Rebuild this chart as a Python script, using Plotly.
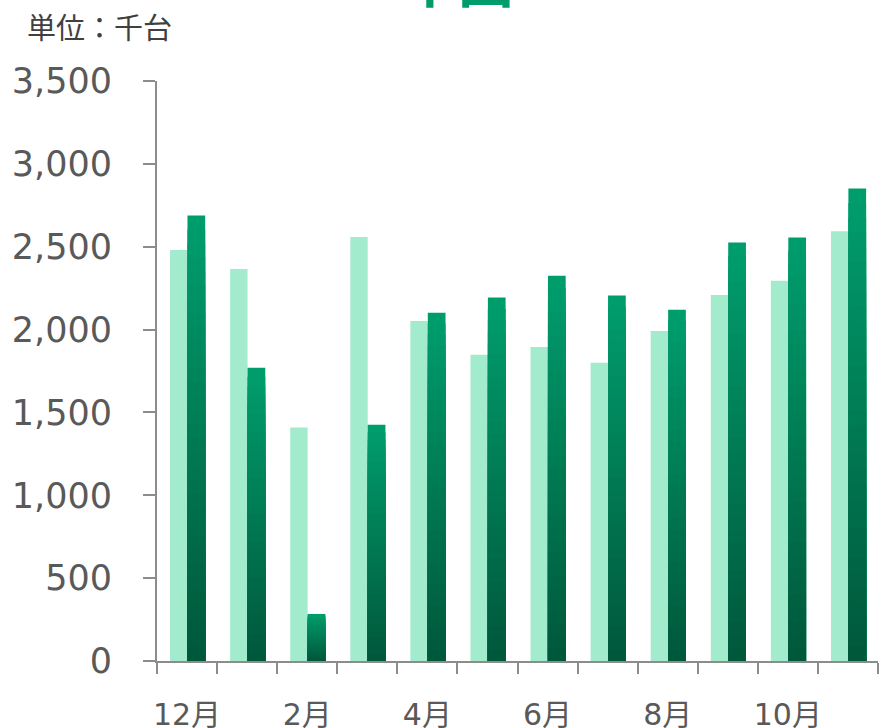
import plotly.graph_objects as go

# ---- data ----
months = ["12月", "1月", "2月", "3月", "4月", "5月", "6月", "7月", "8月", "9月", "10月", "11月"]
tick_labels = ["12月", "", "2月", "", "4月", "", "6月", "", "8月", "", "10月", ""]
prev_year = [2480, 2366, 1409, 2559, 2052, 1848, 1895, 1800, 1991, 2209, 2295, 2593]
curr_year = [2688, 1770, 284, 1425, 2102, 2193, 2325, 2205, 2120, 2525, 2555, 2851]
y_ticks = [0, 500, 1000, 1500, 2000, 2500, 3000, 3500]

W, H = 879, 728
L, R, T, B = 157, 1, 81, 67
PW, PH = W - L - R, H - T - B

LIGHT = "#A2EBCC"
TOP = (0, 157, 108)
BOT = (0, 88, 59)

fig = go.Figure()
fig.add_trace(go.Bar(x=months, y=prev_year, width=0.29, offset=-0.283,
                     marker=dict(color=LIGHT, line=dict(width=0)), name="前年"))

# vertical gradient for the current-year bars: overlaid layers of decreasing height
N = 32
for k in range(N):
    frac = (N - k) / N
    t = k / (N - 1)
    c = tuple(round(TOP[i] + (BOT[i] - TOP[i]) * t) for i in range(3))
    fig.add_trace(go.Bar(
        x=months, y=[v * frac for v in curr_year], width=0.295, offset=0.007,
        marker=dict(color="rgb(%d,%d,%d)" % c, line=dict(width=0)),
        name="当年", showlegend=False,
        hoverinfo="x+y" if k == 0 else "skip",
    ))

axis_col = "#8C8C8C"
fig.update_layout(
    width=W, height=H,
    margin=dict(l=L, r=R, t=T, b=B, autoexpand=False),
    barmode="overlay",
    showlegend=False,
    plot_bgcolor="white", paper_bgcolor="white",
    xaxis=dict(
        type="category", range=[-0.5, 11.5], automargin=False,
        tickmode="array", tickvals=months, ticktext=tick_labels, tickangle=0,
        tickson="boundaries", ticks="outside", ticklen=11, tickwidth=2, tickcolor=axis_col,
        showline=True, linecolor=axis_col, linewidth=2, showgrid=False,
        tickfont=dict(family="DejaVu Sans, Noto Sans CJK JP", size=30, color="#595959"),
        ticklabelstandoff=26,
    ),
    yaxis=dict(
        range=[0, 3500], tickmode="array", tickvals=y_ticks, automargin=False,
        tickformat=",d", ticks="outside", ticklen=12, tickwidth=2, tickcolor=axis_col,
        showline=True, linecolor=axis_col, linewidth=2, showgrid=False, zeroline=False,
        tickfont=dict(family="DejaVu Sans", size=35, color="#595959"),
        ticklabelstandoff=24,
    ),
    annotations=[
        dict(text="単位：千台", xref="paper", yref="paper",
             x=(25 - L) / PW, y=(H - B - 26) / PH, xanchor="left", yanchor="middle",
             showarrow=False,
             font=dict(family="Noto Sans CJK JP", size=29, color="#404040")),
        dict(text="中国", xref="paper", yref="paper",
             x=(458 - L) / PW, y=(H - B - 20) / PH, xanchor="center", yanchor="bottom",
             showarrow=False,
             font=dict(family="Noto Sans CJK JP", size=56, color="#009C6B", weight="bold")),
    ],
)

fig.write_html("out.html", config={"displayModeBar": False},
               post_script="document.body.style.margin='0';")
